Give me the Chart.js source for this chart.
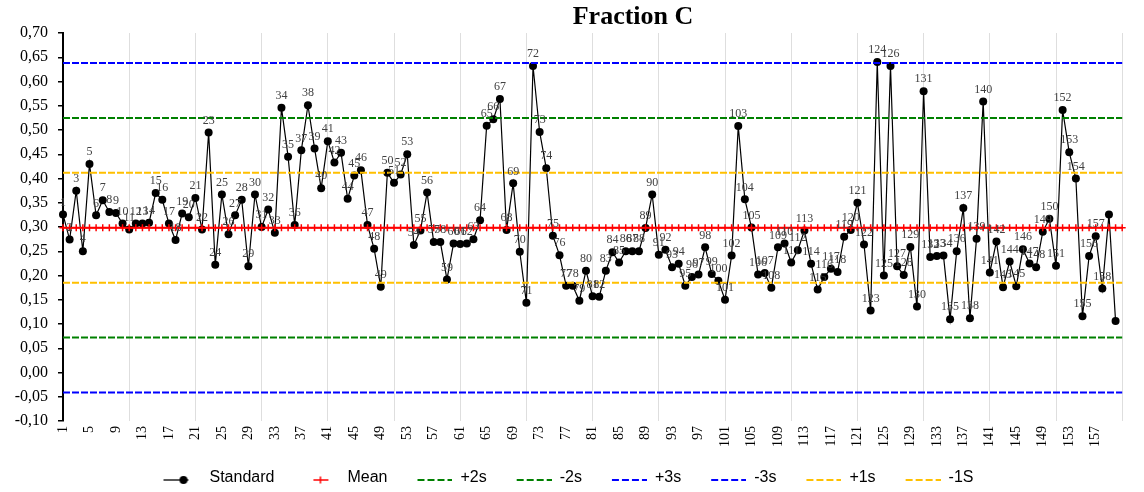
<!DOCTYPE html>
<html>
<head>
<meta charset="utf-8">
<script src="https://cdn.jsdelivr.net/npm/chart.js@4.4.1/dist/chart.umd.min.js"></script>
<style>
html,body{margin:0;padding:0;background:#fff;}
#wrap{width:1144px;height:492px;position:relative;}
</style>
</head>
<body>
<div id="wrap"><canvas id="c"></canvas></div>
<script>
// ---------- data ----------
const titleText = 'Fraction C';
const categories = Array.from({length: 161}, (_, i) => String(i + 1));
const labeledPoints = 158;
const seriesNames = ['Standard', 'Mean', '+2s', '-2s', '+3s', '-3s', '+1s', '-1S'];
const standardValues = [
  0.326, 0.274, 0.375, 0.250, 0.430, 0.324, 0.355, 0.331, 0.329, 0.307,
  0.295, 0.307, 0.307, 0.309, 0.370, 0.356, 0.307, 0.273, 0.328, 0.320,
  0.360, 0.295, 0.495, 0.222, 0.367, 0.285, 0.324, 0.356, 0.219, 0.367,
  0.300, 0.336, 0.288, 0.546, 0.445, 0.304, 0.458, 0.551, 0.462, 0.380,
  0.477, 0.433, 0.453, 0.358, 0.406, 0.417, 0.304, 0.255, 0.177, 0.412,
  0.391, 0.408, 0.450, 0.263, 0.293, 0.371, 0.269, 0.269, 0.192, 0.266,
  0.265, 0.266, 0.275, 0.314, 0.509, 0.522, 0.564, 0.294, 0.390, 0.249,
  0.144, 0.632, 0.496, 0.421, 0.282, 0.242, 0.179, 0.179, 0.148, 0.210,
  0.157, 0.156, 0.210, 0.248, 0.227, 0.250, 0.250, 0.250, 0.298, 0.367,
  0.243, 0.253, 0.217, 0.224, 0.179, 0.197, 0.202, 0.258, 0.203, 0.189,
  0.150, 0.241, 0.508, 0.357, 0.299, 0.202, 0.205, 0.175, 0.258, 0.266,
  0.227, 0.252, 0.293, 0.224, 0.171, 0.197, 0.214, 0.207, 0.280, 0.294,
  0.350, 0.264, 0.128, 0.640, 0.200, 0.632, 0.219, 0.201, 0.259, 0.136,
  0.580, 0.238, 0.240, 0.241, 0.110, 0.250, 0.339, 0.112, 0.276, 0.559,
  0.206, 0.270, 0.176, 0.229, 0.178, 0.254, 0.225, 0.217, 0.290, 0.317,
  0.220, 0.541, 0.454, 0.400, 0.116, 0.240, 0.281, 0.173, 0.326, 0.106
];
// Mean, +2s, -2s, +3s, -3s, +1s, -1S
const levelValues = [0.2985, 0.525, 0.072, 0.638, -0.041, 0.412, 0.185];

// ---------- styles ----------
const levelColors = ['#ff0000', '#008000', '#008000', '#0000ff', '#0000ff', '#ffc000', '#ffc000'];
const serif = '"Liberation Serif", "Times New Roman", serif';
const sans = '"Liberation Sans", Arial, sans-serif';

function makeLegendImage(kind, color) {
  const cv = document.createElement('canvas');
  cv.width = 55; cv.height = 24;
  const g = cv.getContext('2d');
  const y = 14, ox = 17;
  g.strokeStyle = color; g.fillStyle = color;
  if (kind === 'standard') {
    g.lineWidth = 1.3;
    g.beginPath(); g.moveTo(ox, y); g.lineTo(ox + 25, y); g.stroke();
    g.beginPath(); g.arc(ox + 20, y, 4, 0, Math.PI * 2); g.fill();
  } else if (kind === 'mean') {
    g.lineWidth = 1.5;
    g.beginPath(); g.moveTo(ox + 12, y); g.lineTo(ox + 27, y); g.stroke();
    g.beginPath(); g.moveTo(ox + 19, y - 3.5); g.lineTo(ox + 19, y + 3.5); g.stroke();
  } else {
    g.lineWidth = 2;
    g.setLineDash([7, 3]);
    g.beginPath(); g.moveTo(ox + 3, y); g.lineTo(ox + 38, y); g.stroke();
  }
  return cv;
}
const legendImages = [makeLegendImage('standard', '#000000')].concat(
  levelColors.map((c, i) => makeLegendImage(i === 0 ? 'mean' : 'dash', c)));

const datasets = [{
  label: seriesNames[0],
  data: standardValues,
  borderColor: '#000000',
  borderWidth: 1.2,
  pointRadius: 4,
  pointStyle: 'circle',
  pointBackgroundColor: '#000000',
  pointBorderColor: '#000000',
  pointBorderWidth: 0,
  tension: 0,
  order: 2
}];
levelValues.forEach((lv, i) => {
  const isMean = i === 0;
  datasets.push({
    label: seriesNames[i + 1],
    data: categories.map(() => lv),
    borderColor: levelColors[i],
    borderWidth: 2,
    borderDash: isMean ? [] : [7, 2],
    pointRadius: isMean ? 3.5 : 0,
    pointStyle: 'cross',
    pointBorderColor: levelColors[i],
    pointBorderWidth: 1.5,
    tension: 0,
    order: 1
  });
});

const pointNumberPlugin = {
  id: 'pointNumbers',
  afterDatasetsDraw(chart) {
    const meta = chart.getDatasetMeta(0);
    const ctx = chart.ctx;
    ctx.save();
    ctx.font = '12px ' + serif;
    ctx.fillStyle = '#404040';
    ctx.textAlign = 'center';
    ctx.textBaseline = 'bottom';
    meta.data.forEach((pt, i) => {
      if (i < labeledPoints) ctx.fillText(categories[i], pt.x, pt.y - 6);
    });
    ctx.restore();
  }
};

const titlePlugin = {
  id: 'offsetTitle',
  afterDraw(chart) {
    const ctx = chart.ctx;
    ctx.save();
    ctx.font = 'bold 26px ' + serif;
    ctx.fillStyle = '#000';
    ctx.textAlign = 'center';
    ctx.textBaseline = 'alphabetic';
    ctx.fillText(titleText, 633, 24);
    ctx.restore();
  }
};

const legendShiftPlugin = {
  id: 'legendShift',
  afterLayout(chart) {
    const lg = chart.legend;
    if (!lg) return;
    lg.left -= 8; lg.right -= 8;
    lg.top += 4; lg.bottom += 4;
  }
};

new Chart(document.getElementById('c'), {
  type: 'line',
  data: {labels: categories, datasets: datasets},
  plugins: [pointNumberPlugin, titlePlugin, legendShiftPlugin],
  options: {
    responsive: true,
    maintainAspectRatio: false,
    animation: false,
    events: [],
    devicePixelRatio: 1,
    layout: {padding: {top: 33, right: 8, left: 0, bottom: 0}},
    plugins: {
      title: {display: false},
      tooltip: {enabled: false},
      legend: {
        display: true,
        position: 'bottom',
        labels: {
          usePointStyle: true,
          pointStyleWidth: 55,
          padding: 10,
          color: '#000',
          font: {family: sans, size: 16},
          generateLabels: (chart) => chart.data.datasets.map((ds, i) => ({
            text: ds.label,
            fillStyle: 'transparent',
            strokeStyle: 'transparent',
            lineWidth: 0,
            pointStyle: legendImages[i],
            hidden: false,
            datasetIndex: i,
            fontColor: '#000'
          }))
        }
      }
    },
    scales: {
      x: {
        type: 'category',
        offset: false,
        afterFit: (s) => { s.height = 35; },
        border: {display: false},
        grid: {
          display: true,
          drawTicks: false,
          drawOnChartArea: true,
          offset: false,
          lineWidth: 1,
          color: (ctx) => (ctx.index > 0 && ctx.index % 10 === 0) ? '#dedede' : 'rgba(0,0,0,0)'
        },
        ticks: {
          autoSkip: false,
          minRotation: 90,
          maxRotation: 90,
          padding: 5,
          color: '#000',
          font: {family: serif, size: 14},
          callback: function(val, idx) {
            return (idx % 4 === 0 && idx < 160) ? categories[idx] : '';
          }
        }
      },
      y: {
        min: -0.1,
        max: 0.7,
        afterFit: (s) => { s.width = 63; },
        border: {display: true, color: '#000', width: 2},
        grid: {
          display: true,
          drawOnChartArea: false,
          drawTicks: true,
          tickLength: 5,
          color: '#000',
          lineWidth: 1.5
        },
        ticks: {
          stepSize: 0.05,
          padding: 10,
          color: '#000',
          font: {family: serif, size: 16},
          callback: (v) => {
            const n = Math.abs(v) < 1e-9 ? 0 : v;
            return n.toFixed(2).replace('.', ',');
          }
        }
      }
    }
  }
});
</script>
</body>
</html>
